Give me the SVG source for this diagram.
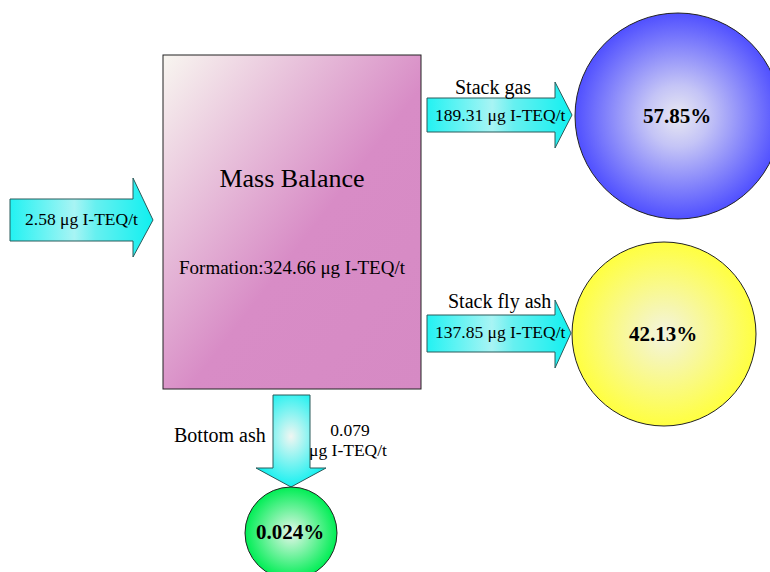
<svg xmlns="http://www.w3.org/2000/svg" width="770" height="572" viewBox="0 0 770 572">
<defs>
<linearGradient id="gBox" x1="0" y1="0" x2="1" y2="1">
<stop offset="0" stop-color="#f8f6f0"/>
<stop offset="0.55" stop-color="#d88cc6"/>
<stop offset="1" stop-color="#d68ac4"/>
</linearGradient>
<linearGradient id="gArrH" x1="0" y1="0" x2="1" y2="0">
<stop offset="0" stop-color="#22f2f2"/>
<stop offset="0.45" stop-color="#a8f4f4"/>
<stop offset="0.6" stop-color="#66f0f0"/>
<stop offset="1" stop-color="#10f0f0"/>
</linearGradient>
<radialGradient id="gArrV" cx="0.5" cy="0.45" r="0.6">
<stop offset="0" stop-color="#f0f6f2"/>
<stop offset="1" stop-color="#00f0f0"/>
</radialGradient>
<radialGradient id="gBlue" cx="0.5" cy="0.5" r="0.5">
<stop offset="0" stop-color="#e8e8f2"/>
<stop offset="0.3" stop-color="#c4c4f6"/>
<stop offset="1" stop-color="#5050ff"/>
</radialGradient>
<radialGradient id="gYellow" cx="0.5" cy="0.5" r="0.5">
<stop offset="0" stop-color="#f4f4e0"/>
<stop offset="0.3" stop-color="#f6f6b0"/>
<stop offset="1" stop-color="#ffff40"/>
</radialGradient>
<radialGradient id="gGreen" cx="0.5" cy="0.5" r="0.5">
<stop offset="0" stop-color="#e6f6ea"/>
<stop offset="1" stop-color="#00ee55"/>
</radialGradient>
</defs>
<style>
text{font-family:"Liberation Serif","Times New Roman",serif;fill:#000}
.lbl{font-size:20px}
.in{font-size:17.5px}
.pct{font-size:21px;font-weight:bold;text-anchor:middle}
.arr{stroke:#2a5a5a;stroke-width:1}
.node{stroke:#222;stroke-width:1}
</style>
<g id="connectors">
<path class="arr" fill="url(#gArrH)" d="M10,199 H133 V178 L153,220 L133,257 V241 H10 Z"/>
<path class="arr" fill="url(#gArrH)" d="M427,98 H555 V82 L572,115 L555,148 V132 H427 Z"/>
<path class="arr" fill="url(#gArrH)" d="M427,315 H555 V300 L571,333 L555,368 V352 H427 Z"/>
<path class="arr" fill="url(#gArrV)" d="M273,395 H310 V468 H326 L291,487 L256,468 H273 Z"/>
<text class="in" x="25" y="225">2.58 μg I-TEQ/t</text>
<text class="lbl" x="455" y="94">Stack gas</text>
<text class="in" x="435" y="121">189.31 μg I-TEQ/t</text>
<text class="lbl" x="448" y="308">Stack fly ash</text>
<text class="in" x="435" y="338">137.85 μg I-TEQ/t</text>
<text class="lbl" x="174" y="442">Bottom ash</text>
<text class="in" x="350" y="436" text-anchor="middle">0.079</text>
<text class="in" x="348" y="456" text-anchor="middle">μg I-TEQ/t</text>
</g>
<g id="massBalance">
<rect class="node" x="163" y="55" width="258" height="334" fill="url(#gBox)"/>
<text x="292" y="187" font-size="26" text-anchor="middle">Mass Balance</text>
<text x="292" y="274" font-size="19" text-anchor="middle">Formation:324.66 μg I-TEQ/t</text>
</g>
<g id="stackGas">
<circle class="node" cx="678" cy="116" r="103" fill="url(#gBlue)"/>
<text class="pct" x="677" y="123">57.85%</text>
</g>
<g id="stackFlyAsh">
<circle class="node" cx="664" cy="334" r="92" fill="url(#gYellow)"/>
<text class="pct" x="663" y="341">42.13%</text>
</g>
<g id="bottomAsh">
<circle class="node" cx="291" cy="533" r="46" fill="url(#gGreen)"/>
<text class="pct" x="290" y="539">0.024%</text>
</g>
</svg>
